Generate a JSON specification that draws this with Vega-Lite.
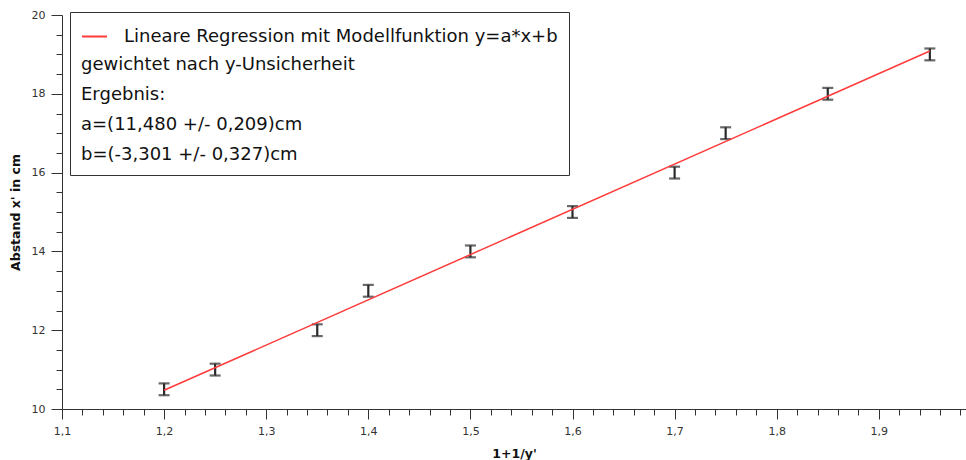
{
  "$schema": "https://vega.github.io/schema/vega-lite/v6.json",
  "width": 904,
  "height": 394,
  "autosize": {"type": "none"},
  "padding": {"left": 62, "top": 15, "right": 0, "bottom": 51},
  "background": "white",
  "config": {
    "view": {"stroke": null},
    "axis": {
      "labelFont": "DejaVu Sans",
      "labelFontSize": 11,
      "labelColor": "#333",
      "titleFont": "DejaVu Sans",
      "titleFontSize": 12.5,
      "titleFontWeight": "bold",
      "titleColor": "#111",
      "domainColor": "#333",
      "tickColor": "#333",
      "grid": false
    }
  },
  "datasets": {
    "points": [
      {"x": 1.2, "y": 10.5, "err": 0.15},
      {"x": 1.25, "y": 11.0, "err": 0.15},
      {"x": 1.35, "y": 12.0, "err": 0.15},
      {"x": 1.4, "y": 13.0, "err": 0.15},
      {"x": 1.5, "y": 14.0, "err": 0.15},
      {"x": 1.6, "y": 15.0, "err": 0.15},
      {"x": 1.7, "y": 16.0, "err": 0.15},
      {"x": 1.75, "y": 17.0, "err": 0.15},
      {"x": 1.85, "y": 18.0, "err": 0.15},
      {"x": 1.95, "y": 19.0, "err": 0.15}
    ],
    "fit": [
      {"x": 1.2, "y": 10.475, "series": "Lineare Regression mit Modellfunktion y=a*x+b"},
      {"x": 1.95, "y": 19.085, "series": "Lineare Regression mit Modellfunktion y=a*x+b"}
    ]
  },
  "layer": [
    {
      "data": {"name": "points"},
      "mark": {"type": "errorbar", "color": "#2a2a2a", "thickness": 2.2, "ticks": {"size": 11, "thickness": 2.2, "color": "#2a2a2a"}},
      "encoding": {
        "x": {"field": "x", "type": "quantitative", "scale": {"domain": [1.1, 1.9854], "nice": false, "zero": false},
          "axis": {"orient": "bottom", "title": "1+1/y'", "values": [1.1, 1.2, 1.3, 1.4, 1.5, 1.6, 1.7, 1.8, 1.9], "tickSize": 10,
            "labelExpr": "replace(format(datum.value, '.1f'), '.', ',')", "labelPadding": 6, "titleY": 44, "titleBaseline": "middle", "labelFlush": false, "labelOverlap": false}},
        "y": {"field": "y", "type": "quantitative", "scale": {"domain": [10, 20], "nice": false, "zero": false},
          "axis": {"orient": "left", "title": "Abstand x' in cm", "values": [10, 12, 14, 16, 18, 20], "tickSize": 11, "labelPadding": 6,
            "titleX": -47, "titleY": 197, "titleAlign": "center", "titleBaseline": "middle", "labelFlush": false, "labelOverlap": false}},
        "yError": {"field": "err"}
      }
    },
    {
      "data": {"name": "fit"},
      "mark": {"type": "line", "strokeWidth": 1.5},
      "encoding": {
        "x": {"field": "x", "type": "quantitative",
          "axis": {"orient": "bottom", "title": null, "labels": false, "domain": false, "tickSize": 6,
            "values": [1.12, 1.14, 1.16, 1.18, 1.22, 1.24, 1.26, 1.28, 1.32, 1.34, 1.36, 1.38, 1.42, 1.44, 1.46, 1.48, 1.52, 1.54, 1.56, 1.58, 1.62, 1.64, 1.66, 1.68, 1.72, 1.74, 1.76, 1.78, 1.82, 1.84, 1.86, 1.88, 1.92, 1.94, 1.96, 1.98]}},
        "y": {"field": "y", "type": "quantitative",
          "axis": {"orient": "left", "title": null, "labels": false, "domain": false, "tickSize": 6,
            "values": [10.5, 11, 11.5, 12.5, 13, 13.5, 14.5, 15, 15.5, 16.5, 17, 17.5, 18.5, 19, 19.5]}},
        "color": {"field": "series", "type": "nominal", "scale": {"range": ["#ff3b3b"]},
          "legend": {
            "orient": "none", "legendX": 8, "legendY": -3,
            "title": ["gewichtet nach y-Unsicherheit", "Ergebnis:", "a=(11,480 +/- 0,209)cm", "b=(-3,301 +/- 0,327)cm"],
            "titleOrient": "bottom", "titleAnchor": "start", "titleAlign": "left", "titleLimit": 0,
            "titleFont": "DejaVu Sans", "titleFontSize": 18, "titleFontWeight": "normal", "titleColor": "#111", "titleLineHeight": 30, "titlePadding": 10,
            "labelFont": "DejaVu Sans", "labelFontSize": 18, "labelColor": "#111", "labelOffset": 16, "labelLimit": 0,
            "symbolType": "stroke", "symbolSize": 625, "symbolStrokeWidth": 2,
            "padding": 11, "strokeColor": "#333", "fillColor": "white"
          }}
      }
    }
  ],
  "resolve": {"axis": {"x": "independent", "y": "independent"}}
}
